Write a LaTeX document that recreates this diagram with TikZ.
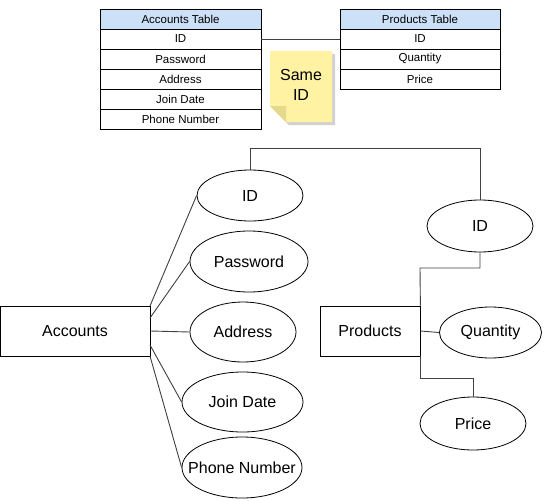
\documentclass[tikz,border=0pt]{standalone}
\usepackage{fontspec}
\setmainfont{Liberation Sans}
\usetikzlibrary{shapes.geometric}
\begin{document}
\begin{tikzpicture}[x=1pt,y=-1pt,
  rowbox/.style={draw=black, line width=0.8pt, minimum width=161pt, minimum height=20pt, inner sep=0pt, font=\fontsize{11.5}{13}\selectfont},
  hdrbox/.style={rowbox, fill=headblue},
  ent/.style={draw=black, line width=0.8pt, minimum width=150pt, minimum height=50pt, inner sep=0pt, font=\fontsize{16}{18}\selectfont},
  attr/.style={draw=black, line width=0.8pt, ellipse, inner sep=0pt, font=\fontsize{16}{18}\selectfont},
  conn/.style={draw=black!75, line width=0.9pt}
]
\definecolor{headblue}{HTML}{CCE0F8}
\definecolor{noteyellow}{HTML}{FFF2A3}
\definecolor{notefold}{HTML}{E6D88C}
\useasboundingbox (0,0) rectangle (544,501);
\fill[white] (0,0) rectangle (544,501);

% Accounts Table
\node[hdrbox] (at) at (180.5,19) {Accounts Table};
\node[rowbox] (atid) at (180.5,39) {ID};
\node[rowbox] (atpw) at (180.5,59) {Password};
\node[rowbox] (atad) at (180.5,79) {Address};
\node[rowbox] (atjd) at (180.5,99) {Join Date};
\node[rowbox] (atpn) at (180.5,119) {Phone Number};

% Products Table
\node[hdrbox, minimum width=160pt] (pt) at (420,19) {Products Table};
\node[rowbox, minimum width=160pt] (ptid) at (420,39) {ID};
\node[rowbox, minimum width=160pt] (ptqt) at (420,59) {Quantity};
\node[rowbox, minimum width=160pt] (ptpr) at (420,79) {Price};

\draw[conn] (atid.east) -- (ptid.west);

% Note
\fill[black!18] (273,54) -- (335,54) -- (335,125) -- (289,125) -- (273,109) -- cycle;
\fill[noteyellow] (270,51) -- (332,51) -- (332,122) -- (286,122) -- (270,106) -- cycle;
\fill[notefold] (270,106) -- (286,106) -- (286,122) -- cycle;
\node[align=center, font=\fontsize{16}{20}\selectfont, inner sep=0pt] (note) at (301,85) {Same\\ID};

% Accounts ER
\node[ent] (acc) at (75,331) {Accounts};
\node[attr, minimum width=106pt, minimum height=51pt] (aid) at (250,195.5) {ID};
\node[attr, minimum width=118pt, minimum height=61pt] (apw) at (249,261.5) {Password};
\node[attr, minimum width=106pt, minimum height=60pt] (aad) at (243,332) {Address};
\node[attr, minimum width=121pt, minimum height=60pt] (ajd) at (242.5,402) {Join Date};
\node[attr, minimum width=120pt, minimum height=61pt] (apn) at (242,467.5) {\makebox[0pt]{Phone Number}};

\coordinate (c1) at (150,306);
\coordinate (c2) at (150,318);
\coordinate (c4) at (150,345);
\coordinate (c5) at (150,356);
\draw[conn] (c1) -- (aid.west);
\draw[conn] (c2) -- (apw.west);
\draw[conn] (acc.east) -- (aad.west);
\draw[conn] (c4) -- (ajd.west);
\draw[conn] (c5) -- (apn.west);

% Products ER
\node[ent, minimum width=100pt] (prod) at (370,331) {Products};
\node[attr, minimum width=106pt, minimum height=52pt] (pid) at (480,226) {ID};
\node[attr, minimum width=102pt, minimum height=51pt] (pqt) at (490.5,332.5) {Quantity};
\node[attr, minimum width=106pt, minimum height=53pt] (ppr) at (473,423.5) {Price};

\draw[conn] (aid.north) |- (250,148.5) -| (pid.north);
\draw[conn] (pid.south) |- (420,268) -- (prod.north east);
\draw[conn] (prod.east) -- (pqt.west);
\draw[conn] (prod.south east) |- (473,378) -- (ppr.north);
\end{tikzpicture}
\end{document}
